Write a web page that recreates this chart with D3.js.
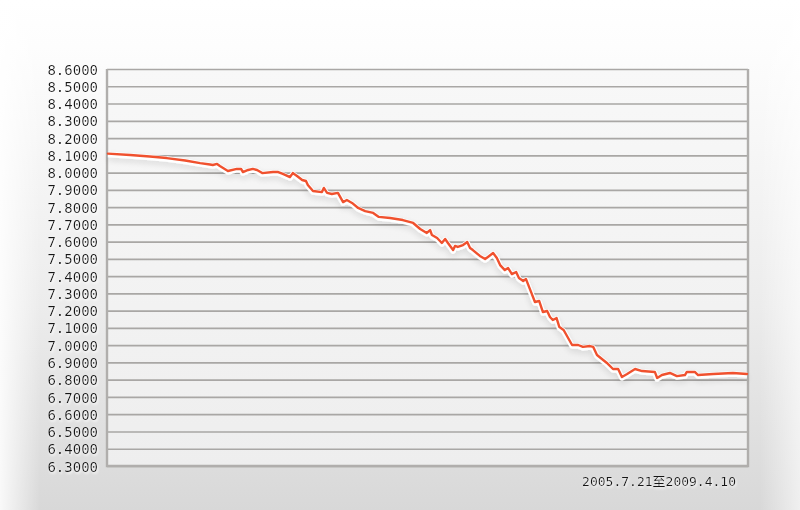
<!DOCTYPE html>
<html>
<head>
<meta charset="utf-8">
<script src="https://cdn.jsdelivr.net/npm/d3@7"></script>
<style>
html,body{margin:0;padding:0;background:#fff;}
svg{display:block;}
</style>
</head>
<body>
<svg id="chart" width="800" height="510"></svg>
<script>
const dates = ["2005-07-21","2005-09-06","2005-10-18","2005-11-23","2006-01-01","2006-02-02","2006-02-23","2006-03-01","2006-03-10","2006-03-16",
"2006-04-02","2006-04-21","2006-04-30","2006-05-04","2006-05-15","2006-05-25","2006-06-03","2006-06-14","2006-07-07","2006-07-18",
"2006-07-28","2006-08-12","2006-08-18","2006-08-27","2006-09-07","2006-09-15","2006-09-19","2006-09-30","2006-10-19","2006-10-23",
"2006-10-30","2006-11-09","2006-11-22","2006-12-03","2006-12-11","2006-12-22","2007-01-04","2007-01-19","2007-02-05","2007-02-17",
"2007-03-13","2007-04-09","2007-05-01","2007-05-16","2007-05-30","2007-06-06","2007-06-10","2007-06-21","2007-07-01","2007-07-08",
"2007-07-14","2007-07-25","2007-07-29","2007-08-04","2007-08-15","2007-08-24","2007-08-30","2007-09-05","2007-09-20","2007-10-01",
"2007-10-07","2007-10-18","2007-10-26","2007-11-02","2007-11-12","2007-11-19","2007-11-27","2007-12-06","2007-12-12","2007-12-21",
"2007-12-27","2008-01-05","2008-01-15","2008-01-24","2008-02-01","2008-02-10","2008-02-16","2008-02-22","2008-03-01","2008-03-07",
"2008-03-16","2008-04-03","2008-04-16","2008-04-26","2008-05-11","2008-05-18","2008-05-26","2008-06-16","2008-06-29","2008-07-10",
"2008-07-18","2008-07-29","2008-08-15","2008-08-30","2008-09-26","2008-10-01","2008-10-11","2008-10-28","2008-11-12","2008-11-29",
"2008-12-03","2008-12-20","2008-12-27","2009-01-28","2009-03-11","2009-04-10"];
const rates = [8.110,8.102,8.093,8.084,8.070,8.055,8.047,8.044,8.050,8.038,
8.009,8.021,8.021,8.003,8.015,8.021,8.015,7.997,8.003,8.003,
7.992,7.974,7.997,7.980,7.957,7.951,7.928,7.893,7.887,7.911,
7.882,7.876,7.882,7.829,7.841,7.824,7.795,7.777,7.766,7.743,
7.737,7.725,7.708,7.673,7.650,7.667,7.638,7.621,7.592,7.615,
7.592,7.551,7.575,7.569,7.580,7.598,7.563,7.551,7.517,7.499,
7.511,7.534,7.505,7.464,7.435,7.447,7.412,7.424,7.389,7.372,
7.383,7.320,7.250,7.256,7.192,7.198,7.163,7.146,7.157,7.105,
7.088,7.001,7.001,6.990,6.995,6.990,6.943,6.897,6.862,6.862,
6.816,6.833,6.862,6.850,6.845,6.810,6.827,6.839,6.821,6.827,
6.845,6.845,6.827,6.833,6.839,6.833];
const yTicks = [6.3,6.4,6.5,6.6,6.7,6.8,6.9,7.0,7.1,7.2,7.3,7.4,7.5,7.6,7.7,7.8,7.9,8.0,8.1,8.2,8.3,8.4,8.5,8.6];
const caption = "2005.7.21至2009.4.10";

const parse = d3.timeParse("%Y-%m-%d");
const data = dates.map((d,i)=>({date:parse(d), v:rates[i]}));

const svg = d3.select("#chart");
const W = 800, H = 510;
const m = {left:107, right:52, top:69, bottom:44};
const pw = W - m.left - m.right, ph = H - m.top - m.bottom;

const defs = svg.append("defs");
const bg = defs.append("linearGradient").attr("id","bg").attr("x1",0).attr("y1",0).attr("x2",0).attr("y2",1);
bg.append("stop").attr("offset","0%").attr("stop-color","#ffffff");
bg.append("stop").attr("offset","9%").attr("stop-color","#fdfdfd");
bg.append("stop").attr("offset","60%").attr("stop-color","#ececec");
bg.append("stop").attr("offset","100%").attr("stop-color","#d8d8d8");
const side = defs.append("linearGradient").attr("id","side").attr("x1",0).attr("y1",0).attr("x2",1).attr("y2",0);
side.append("stop").attr("offset","0%").attr("stop-color","#fff").attr("stop-opacity",0.85);
side.append("stop").attr("offset","5%").attr("stop-color","#fff").attr("stop-opacity",0);
side.append("stop").attr("offset","95%").attr("stop-color","#fff").attr("stop-opacity",0);
side.append("stop").attr("offset","100%").attr("stop-color","#fff").attr("stop-opacity",0.6);
const pg = defs.append("linearGradient").attr("id","pg").attr("x1",0).attr("y1",0).attr("x2",0).attr("y2",1);
pg.append("stop").attr("offset","0%").attr("stop-color","#f8f8f8");
pg.append("stop").attr("offset","100%").attr("stop-color","#eeeeee");
const sh = defs.append("filter").attr("id","sh").attr("x","-5%").attr("y","-5%").attr("width","110%").attr("height","120%");
sh.append("feGaussianBlur").attr("in","SourceAlpha").attr("stdDeviation",3).attr("result","b");
sh.append("feOffset").attr("in","b").attr("dy",3).attr("result","o");
sh.append("feComponentTransfer").attr("in","o").attr("result","s").append("feFuncA").attr("type","linear").attr("slope",0.12);
const mg = sh.append("feMerge");
mg.append("feMergeNode").attr("in","s");
mg.append("feMergeNode").attr("in","SourceGraphic");
const ts = defs.append("filter").attr("id","ts").attr("x","-10%").attr("y","-20%").attr("width","120%").attr("height","160%");
ts.append("feDropShadow").attr("dx",1).attr("dy",1.5).attr("stdDeviation",0.8).attr("flood-color","#fff").attr("flood-opacity",1);

svg.append("rect").attr("width",W).attr("height",H).attr("fill","url(#bg)");
svg.append("rect").attr("width",W).attr("height",H).attr("fill","url(#side)");

const x = d3.scaleTime().domain([parse("2005-07-21"), parse("2009-04-10")]).range([m.left+1, m.left+pw-1]);
const y = d3.scaleLinear().domain([6.3, 8.6]).range([m.top+ph, m.top]);

const g = svg.append("g");
g.append("rect").attr("x",m.left).attr("y",m.top).attr("width",pw).attr("height",ph).attr("fill","url(#pg)");

// grid lines
const yAxis = d3.axisLeft(y).tickValues(yTicks).tickSize(-pw).tickFormat(d=>d3.format(".4f")(d));
const ya = g.append("g").attr("transform",`translate(${m.left},0)`).call(yAxis);
ya.select(".domain").remove();
ya.selectAll(".tick line").attr("stroke","#a9a7a5").attr("stroke-width",1.7);
ya.selectAll(".tick text")
  .attr("x",-9).attr("dy","0.36em")
  .attr("fill","#141414")
  .style("font-family","'DejaVu Sans Mono', monospace")
  .style("font-size","14px")
  .attr("filter","url(#ts)");

// frame
g.append("path")
  .attr("d",`M${m.left},${m.top}V${m.top+ph}H${m.left+pw}V${m.top}`)
  .attr("fill","none").attr("stroke","#b0aeac").attr("stroke-width",2.4);

const line = d3.line().x(d=>x(d.date)).y(d=>y(d.v));
g.append("path").datum(data).attr("d",line)
  .attr("fill","none").attr("stroke","#ffffff").attr("stroke-width",5.5)
  .attr("stroke-linejoin","round").attr("filter","url(#sh)").attr("transform","translate(0,1)");
g.append("path").datum(data).attr("d",line)
  .attr("fill","none").attr("stroke","#f0512e").attr("stroke-width",2.4)
  .attr("stroke-linejoin","round").attr("stroke-linecap","round");

svg.append("text").attr("x",736).attr("y",486).attr("text-anchor","end")
  .attr("fill","#141414")
  .style("font-family","'DejaVu Sans Mono', 'Noto Sans CJK SC', monospace")
  .style("font-size","13px")
  .attr("filter","url(#ts)")
  .text(caption);
</script>
</body>
</html>
